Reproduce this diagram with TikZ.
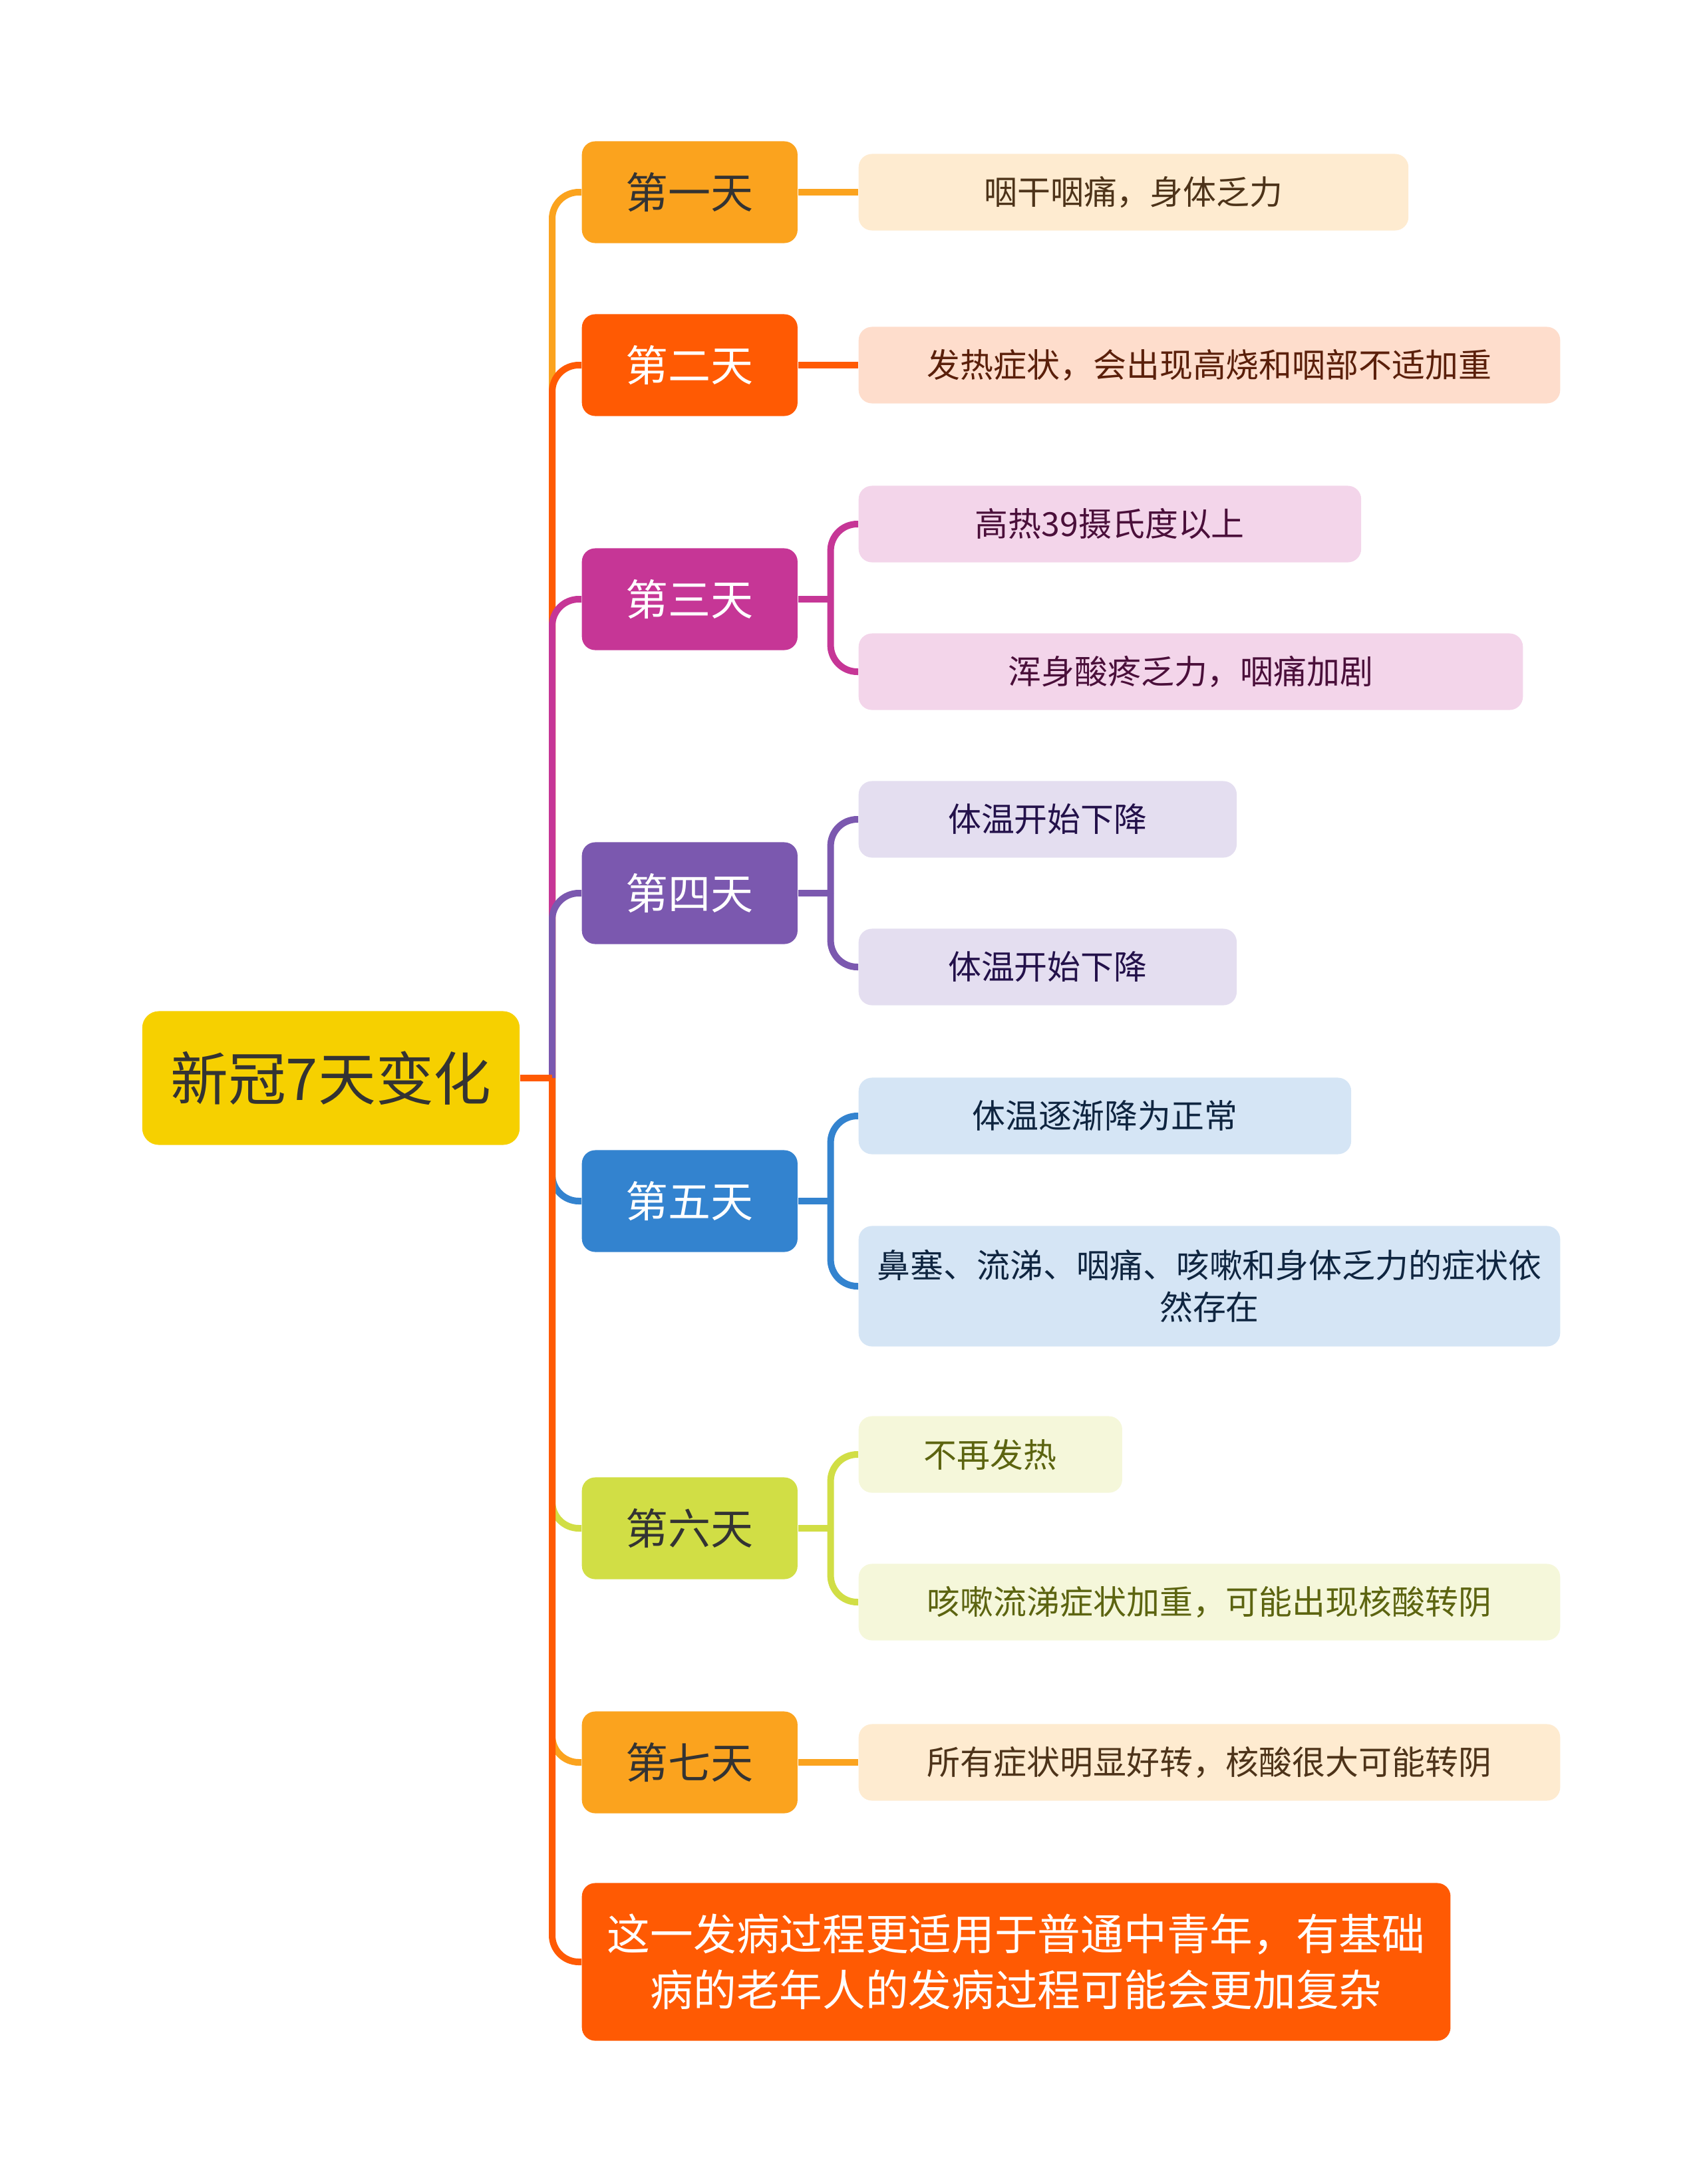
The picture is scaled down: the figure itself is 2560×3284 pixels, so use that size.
\documentclass[tikz,border=0pt]{standalone}
\usepackage{fontspec}
\setmainfont{Noto Sans CJK SC}
\usepackage{xcolor}
\usepackage{tikz}
\usetikzlibrary{positioning,calc}
\definecolor{myellow}{HTML}{F6D000}
\definecolor{morange}{HTML}{FBA31E}
\definecolor{mred}{HTML}{FF5A03}
\definecolor{mmagenta}{HTML}{C63696}
\definecolor{mpurple}{HTML}{7B58AF}
\definecolor{mblue}{HTML}{3383CF}
\definecolor{mlime}{HTML}{D1DE45}
\definecolor{morangeL}{HTML}{FEEBD0}
\definecolor{mredL}{HTML}{FEDDCC}
\definecolor{mmagentaL}{HTML}{F3D5EA}
\definecolor{mpurpleL}{HTML}{E4DEF0}
\definecolor{mblueL}{HTML}{D5E5F5}
\definecolor{mlimeL}{HTML}{F5F7DA}
\definecolor{morangeD}{HTML}{4D3319}
\definecolor{mredD}{HTML}{5A1F0A}
\definecolor{mmagentaD}{HTML}{4A0F3A}
\definecolor{mpurpleD}{HTML}{23114A}
\definecolor{mblueD}{HTML}{0F2540}
\definecolor{mlimeD}{HTML}{5C6410}
\tikzset{
  mroot/.style={rounded corners=2.5mm, fill=myellow, text=black!80,
                minimum width=5.67cm, minimum height=2.01cm, inner sep=0pt,
                font=\fontsize{24.7}{30}\selectfont},
  mday/.style={rounded corners=2mm, fill=#1, text=white, anchor=west,
               minimum width=3.24cm, minimum height=1.53cm, inner sep=0pt,
               font=\fontsize{18.2}{22}\selectfont},
  mleaf/.style={rounded corners=2mm, fill=#1L, text=#1D, anchor=west,
                minimum height=1.15cm, inner sep=0pt, align=center,
                font=\fontsize{14.2}{17.9}\selectfont},
  mlink/.style={draw=#1, line width=1mm, rounded corners=4mm},
}

\begin{document}
\begin{tikzpicture}[x=0.01cm,y=-0.01cm]
  \useasboundingbox (0,0) rectangle (2560,3284);

  \node[mroot] (root) at (497.5,1621) {新冠7天变化};
  \coordinate (hub) at (830,1621);

  % days
  \node[mday=morange, text=black!80] (d1) at (874,289)  {第一天};
  \node[mday=mred]                   (d2) at (874,549)  {第二天};
  \node[mday=mmagenta]               (d3) at (874,901)  {第三天};
  \node[mday=mpurple]                (d4) at (874,1343) {第四天};
  \node[mday=mblue]                  (d5) at (874,1806) {第五天};
  \node[mday=mlime, text=black!80]   (d6) at (874,2298) {第六天};
  \node[mday=morange, text=black!80] (d7) at (874,2650) {第七天};
  \node[mday=mred, minimum width=13.05cm, minimum height=2.37cm, align=center,
        font=\fontsize{18.4}{23.9}\selectfont]
    (fin) at (874,2950) {这一发病过程更适用于普通中青年，有基础\\病的老年人的发病过程可能会更加复杂};

  % symptoms
  \node[mleaf=morange,  minimum width=8.26cm]  (a1) at (1290,289)  {咽干咽痛，身体乏力};
  \node[mleaf=mred,     minimum width=10.54cm] (a2) at (1290,549)  {发热症状，会出现高烧和咽部不适加重};
  \node[mleaf=mmagenta, minimum width=7.55cm]  (a3) at (1290,788)  {高热39摄氏度以上};
  \node[mleaf=mmagenta, minimum width=9.98cm]  (b3) at (1290,1010) {浑身酸疼乏力，咽痛加剧};
  \node[mleaf=mpurple,  minimum width=5.68cm]  (a4) at (1290,1232) {体温开始下降};
  \node[mleaf=mpurple,  minimum width=5.68cm]  (b4) at (1290,1454) {体温开始下降};
  \node[mleaf=mblue,    minimum width=7.40cm]  (a5) at (1290,1678) {体温逐渐降为正常};
  \node[mleaf=mblue,    minimum width=10.54cm, minimum height=1.81cm]
    (b5) at (1290,1934) {鼻塞、流涕、咽痛、咳嗽和身体乏力的症状依\\然存在};
  \node[mleaf=mlime,    minimum width=3.96cm]  (a6) at (1290,2187) {不再发热};
  \node[mleaf=mlime,    minimum width=10.54cm] (b6) at (1290,2409) {咳嗽流涕症状加重，可能出现核酸转阴};
  \node[mleaf=morange,  minimum width=10.54cm] (a7) at (1290,2650) {所有症状明显好转，核酸很大可能转阴};

  \foreach \n/\c in {d1/morange,d2/mred,d3/mmagenta,d4/mpurple,
                     d5/mblue,d6/mlime,d7/morange,fin/mred}
    \draw[mlink=\c] (hub) |- (\n.west);
  \draw[mlink=mred] (root.east) -- (hub);

  \foreach \i/\c in {1/morange,2/mred,7/morange}
    \draw[mlink=\c] (d\i.east) -- (a\i.west);
  \foreach \i/\c in {3/mmagenta,4/mpurple,5/mblue,6/mlime}{
    \draw[mlink=\c] (d\i.east) -- ++(49,0) coordinate (j\i);
    \draw[mlink=\c] (j\i) |- (a\i.west);
    \draw[mlink=\c] (j\i) |- (b\i.west);
  }

\end{tikzpicture}
\end{document}
